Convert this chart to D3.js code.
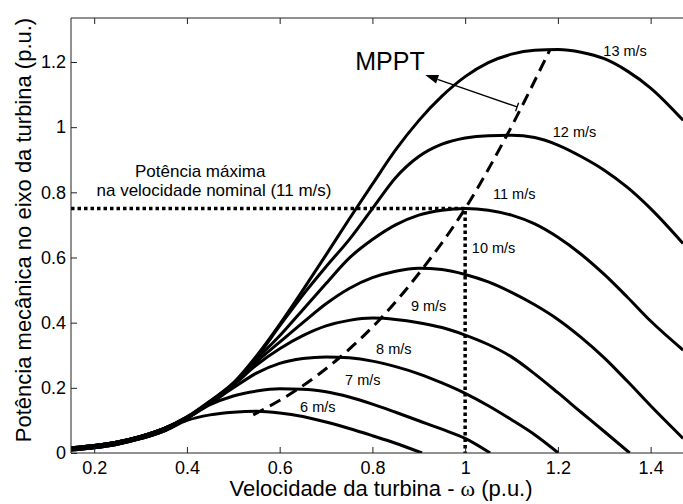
<!DOCTYPE html>
<html>
<head>
<meta charset="utf-8">
<script src="https://cdn.jsdelivr.net/npm/d3@7"></script>
<style>
  body { margin: 0; background: #fff; }
  text { font-family: "Liberation Sans", Arial, Helvetica, sans-serif; fill: #000; }
</style>
</head>
<body>
<svg width="683" height="504"></svg>
<script>
// values: [omega (p.u.), power (p.u.)]
// low-speed stretch, lower and upper edge of the bundle
const lowPartA = [[0.15,0.009],[0.2,0.016],[0.25,0.027],[0.3,0.044],[0.35,0.067]];
const lowPartB = [[0.15,0.016],[0.2,0.023],[0.25,0.034],[0.3,0.051],[0.35,0.075]];

const curve6 = [[0.4,0.1],[0.45,0.117],[0.5,0.125],[0.55,0.128],[0.6,0.123],[0.65,0.112],[0.7,0.095],[0.75,0.075],[0.8,0.053],[0.85,0.03],[0.907,0]];
const curve7 = [[0.4,0.106],[0.45,0.148],[0.5,0.175],[0.55,0.19],[0.6,0.197],[0.65,0.196],[0.7,0.188],[0.75,0.172],[0.8,0.15],[0.85,0.125],[0.9,0.099],[0.95,0.073],[1.0,0.045],[1.054,0]];
const curve8 = [[0.4,0.107],[0.45,0.152],[0.5,0.2],[0.55,0.245],[0.6,0.275],[0.65,0.29],[0.7,0.295],[0.75,0.292],[0.8,0.282],[0.85,0.265],[0.9,0.243],[0.95,0.215],[1.0,0.183],[1.05,0.145],[1.1,0.102],[1.15,0.056],[1.201,0]];
const curve9 = [[0.4,0.107],[0.45,0.155],[0.5,0.208],[0.55,0.27],[0.6,0.32],[0.65,0.36],[0.7,0.39],[0.75,0.407],[0.8,0.414],[0.85,0.41],[0.9,0.4],[0.95,0.385],[1.0,0.362],[1.05,0.333],[1.1,0.295],[1.15,0.243],[1.2,0.185],[1.25,0.125],[1.3,0.066],[1.355,0]];
const curve10 = [[0.4,0.108],[0.45,0.156],[0.5,0.211],[0.55,0.28],[0.6,0.34],[0.65,0.4],[0.7,0.458],[0.75,0.505],[0.8,0.538],[0.85,0.558],[0.9,0.567],[0.95,0.563],[1.0,0.548],[1.05,0.525],[1.1,0.493],[1.15,0.455],[1.2,0.41],[1.25,0.355],[1.3,0.292],[1.35,0.22],[1.4,0.145],[1.47,0.045]];
const curve11 = [[0.4,0.109],[0.45,0.157],[0.5,0.212],[0.55,0.288],[0.6,0.36],[0.65,0.44],[0.7,0.52],[0.75,0.598],[0.8,0.655],[0.85,0.7],[0.9,0.73],[0.95,0.745],[1.0,0.75],[1.05,0.745],[1.1,0.73],[1.15,0.703],[1.2,0.662],[1.25,0.61],[1.3,0.548],[1.35,0.478],[1.4,0.405],[1.47,0.316]];
const curve12 = [[0.4,0.11],[0.45,0.158],[0.5,0.213],[0.55,0.293],[0.6,0.39],[0.65,0.485],[0.7,0.572],[0.75,0.655],[0.8,0.75],[0.85,0.845],[0.9,0.91],[0.95,0.948],[1.0,0.967],[1.05,0.974],[1.1,0.975],[1.15,0.968],[1.2,0.945],[1.25,0.91],[1.3,0.868],[1.35,0.815],[1.4,0.75],[1.47,0.643]];
const curve13 = [[0.4,0.111],[0.45,0.16],[0.5,0.215],[0.55,0.298],[0.6,0.395],[0.65,0.5],[0.7,0.608],[0.75,0.718],[0.8,0.825],[0.85,0.93],[0.9,1.02],[0.95,1.095],[1.0,1.155],[1.05,1.198],[1.1,1.224],[1.15,1.236],[1.2,1.238],[1.25,1.23],[1.3,1.21],[1.35,1.172],[1.4,1.12],[1.47,1.021]];

const speeds = ["6 m/s","7 m/s","8 m/s","9 m/s","10 m/s","11 m/s","12 m/s","13 m/s"];
// where each speed label sits (omega, power)
const labelOmega = [0.644,0.741,0.808,0.883,1.0145,1.06,1.189,1.298];
const labelPower = [0.127,0.209,0.304,0.437,0.613,0.778,0.970,1.218];

// MPPT locus through the maxima
const mpptOmega = [0.543,0.636,0.727,0.818,0.909,1.0,1.09,1.183];
const mpptPower = [0.117,0.193,0.29,0.413,0.567,0.75,0.975,1.238];

const ratedOmega = 1.0, ratedPower = 0.75;
const xTicks = [0.2,0.4,0.6,0.8,1,1.2,1.4];
const yTicks = [0,0.2,0.4,0.6,0.8,1,1.2];

const svg = d3.select("svg");
const x = d3.scaleLinear().domain([0.15, 1.5]).range([71, 697]);
const y = d3.scaleLinear().domain([0, 1.335]).range([453, 18]);

svg.append("defs").append("clipPath").attr("id", "plot")
  .append("rect").attr("x", 71).attr("y", 18).attr("width", 626).attr("height", 435);

const curves = [curve6, curve7, curve8, curve9, curve10, curve11, curve12, curve13]
  .map((c, i) => (i < 3 ? lowPartA : lowPartB).concat(c));

const line = d3.line()
  .x(d => x(d[0]))
  .y(d => y(d[1]))
  .curve(d3.curveMonotoneX);

const plot = svg.append("g").attr("clip-path", "url(#plot)");

// dotted rated-power guides
plot.append("path")
  .attr("d", line.curve(d3.curveLinear)([[0.15, ratedPower], [ratedOmega, ratedPower], [ratedOmega, 0]]))
  .attr("fill", "none").attr("stroke", "#000")
  .attr("stroke-width", 3.5).attr("stroke-dasharray", "3.5,3");

line.curve(d3.curveMonotoneX);

plot.selectAll("path.pw")
  .data(curves)
  .join("path")
  .attr("class", "pw")
  .attr("d", line)
  .attr("fill", "none")
  .attr("stroke", "#000")
  .attr("stroke-width", 3)
  .attr("stroke-linejoin", "round");

plot.append("path")
  .datum(mpptOmega.map((w, i) => [w, mpptPower[i]]))
  .attr("d", line)
  .attr("fill", "none").attr("stroke", "#000")
  .attr("stroke-width", 3).attr("stroke-dasharray", "12,7");

// axes
const axL = svg.append("g").attr("transform", "translate(71,0)")
  .call(d3.axisLeft(y).tickValues(yTicks).tickSize(-6).tickPadding(5).tickFormat(d3.format("~g")));
const axB = svg.append("g").attr("transform", "translate(0,453)")
  .call(d3.axisBottom(x).tickValues(xTicks).tickSize(-6).tickPadding(8).tickFormat(d3.format("~g")));
const axT = svg.append("g").attr("transform", "translate(0,18)")
  .call(d3.axisTop(x).tickValues(xTicks).tickSize(-6).tickFormat(""));
[axL, axB, axT].forEach(a => {
  a.select(".domain").remove();
  a.selectAll("line").attr("stroke", "#222");
  a.selectAll("text").style("font-size", "18px").attr("fill", "#000");
});

svg.append("path")
  .attr("d", "M697,18H71V453H697")
  .attr("fill", "none").attr("stroke", "#222").attr("stroke-width", 1);

// speed labels
svg.selectAll("text.spd")
  .data(speeds)
  .join("text")
  .attr("class", "spd")
  .attr("x", (d, i) => x(labelOmega[i]))
  .attr("y", (d, i) => y(labelPower[i]))
  .style("font-size", "14.5px")
  .text(d => d);

// MPPT arrow
const a0 = [x(1.112), y(1.062)], a1 = [x(0.914), y(1.16)];
const dx = a1[0] - a0[0], dy = a1[1] - a0[1], len = Math.hypot(dx, dy);
const ux = dx / len, uy = dy / len;
const head = 13, hw = 4.5;
const base = [a1[0] - ux * head, a1[1] - uy * head];
svg.append("line")
  .attr("x1", a0[0]).attr("y1", a0[1]).attr("x2", base[0]).attr("y2", base[1])
  .attr("stroke", "#000").attr("stroke-width", 1.3);
svg.append("line")
  .attr("x1", a0[0] - uy * 4.5).attr("y1", a0[1] + ux * 4.5)
  .attr("x2", a0[0] + uy * 4.5).attr("y2", a0[1] - ux * 4.5)
  .attr("stroke", "#000").attr("stroke-width", 1.3);
svg.append("path")
  .attr("d", `M${a1[0]},${a1[1]}L${base[0] - uy * hw},${base[1] + ux * hw}L${base[0] + uy * hw},${base[1] - ux * hw}Z`)
  .attr("fill", "#000");

svg.append("text")
  .attr("x", x(0.763)).attr("y", y(1.175))
  .style("font-size", "25px")
  .text("MPPT");

svg.append("text")
  .attr("x", x(0.288)).attr("y", y(0.848))
  .style("font-size", "17px")
  .text("Potência máxima");
svg.append("text")
  .attr("x", x(0.205)).attr("y", y(0.788))
  .style("font-size", "17px")
  .text("na velocidade nominal (11 m/s)");

// axis titles
const xt = svg.append("text")
  .attr("x", 381).attr("y", 496)
  .attr("text-anchor", "middle")
  .style("font-size", "22px");
xt.append("tspan").text("Velocidade da turbina - ");
xt.append("tspan").style("font-family", "'Liberation Serif', 'Times New Roman', serif").text("ω");
xt.append("tspan").text(" (p.u.)");

svg.append("text")
  .attr("transform", "translate(31,230) rotate(-90)")
  .attr("text-anchor", "middle")
  .style("font-size", "22px")
  .text("Potência mecânica no eixo da turbina (p.u.)");
</script>
</body>
</html>
